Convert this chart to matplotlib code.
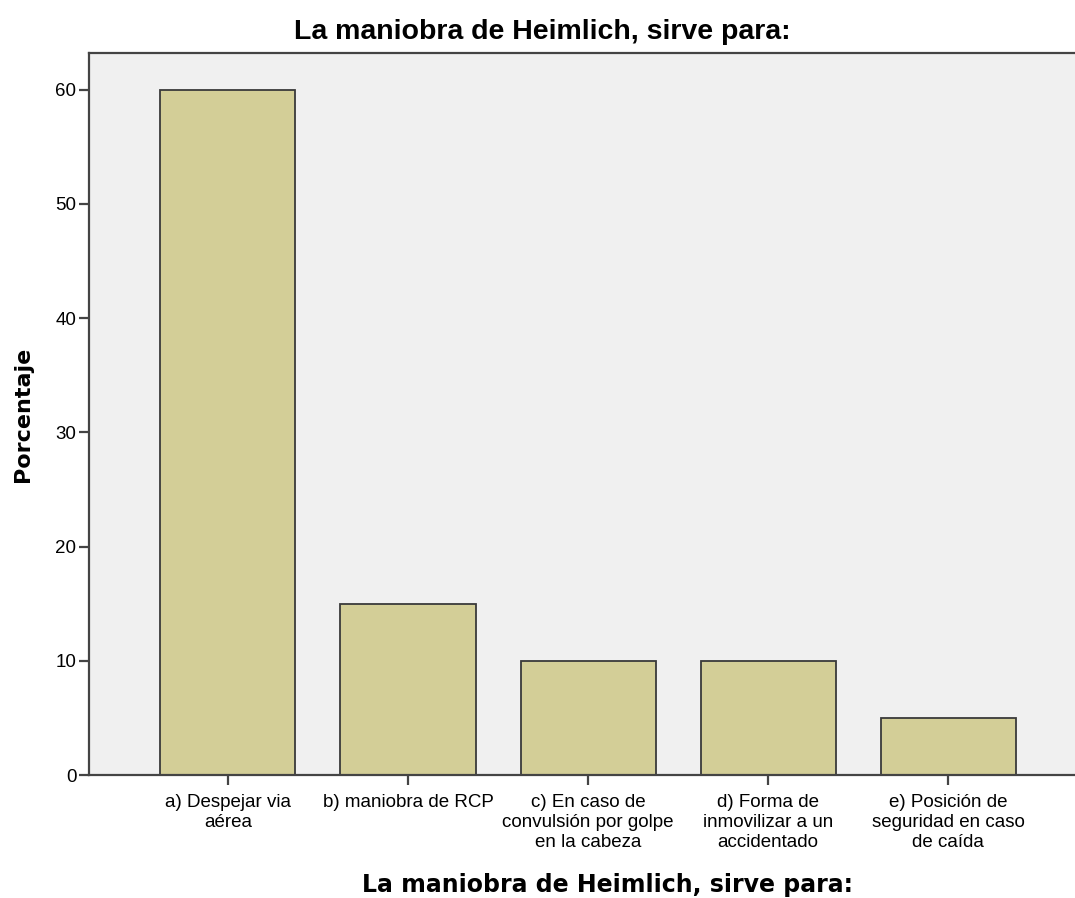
import matplotlib
matplotlib.use("Agg")
import matplotlib.pyplot as plt
import numpy as np

# Data
categories = [
    "a) Despejar via\naérea",
    "b) maniobra de RCP",
    "c) En caso de\nconvulsión por golpe\nen la cabeza",
    "d) Forma de\ninmovilizar a un\naccidentado",
    "e) Posición de\nseguridad en caso\nde caída",
]
percent = [60, 15, 10, 10, 5]
y_ticks = [0, 10, 20, 30, 40, 50, 60]

title = "La maniobra de Heimlich, sirve para:"

fig = plt.figure(figsize=(10.75, 8.98), dpi=100)
ax = fig.add_axes([89 / 1075, 1 - 775 / 898, 1 - 89 / 1075, (775 - 53) / 898])

x = np.arange(len(categories))
ax.bar(x, percent, width=0.75, color="#D3CE97", edgecolor="#3A3A3A", linewidth=1.3, zorder=2)

ax.set_facecolor("#F0F0F0")
ax.set_xlim(-0.772, 4.705)
ax.set_ylim(0, 63.2)

for side in ["left", "top", "bottom"]:
    ax.spines[side].set_color("#444444")
    ax.spines[side].set_linewidth(1.6)
ax.spines["right"].set_visible(False)

ax.set_yticks(y_ticks)
ax.set_xticks(x)
ax.set_xticklabels(categories, family="Liberation Sans", fontsize=13.5, linespacing=1.2)
for t in ax.get_yticklabels():
    t.set_family("Liberation Sans")
    t.set_fontsize(13.5)
ax.tick_params(axis="x", direction="out", length=7, width=1.6, color="#444444", pad=7)
ax.tick_params(axis="y", direction="out", length=7, width=1.6, color="#444444", pad=2)

# title sits a bit left of the axes centre in the original
fig.text(542 / 1075, 1 - 32 / 898, title, family="Liberation Sans", fontweight="bold",
         fontsize=20.5, ha="center", va="center")
ax.set_ylabel("Porcentaje", family="DejaVu Sans", fontweight="bold", fontsize=16, labelpad=16)
fig.text(608 / 1075, 1 - 885 / 898, title, family="DejaVu Sans", fontweight="bold",
         fontsize=17, ha="center", va="center")

fig.savefig("out.png", dpi=100)
